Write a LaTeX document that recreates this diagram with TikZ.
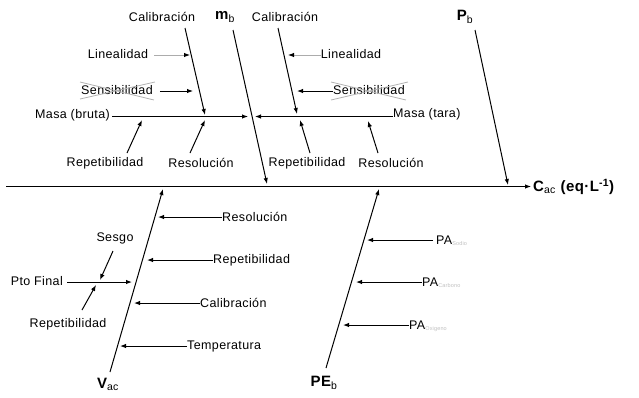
\documentclass[tikz,border=0pt]{standalone}
\usepackage{fontspec}
\setmainfont{Liberation Sans}[LetterSpace=3]
\usetikzlibrary{arrows.meta}
\begin{document}
\begin{tikzpicture}[x=1pt,y=-1pt,
  lbl/.style={inner sep=0pt,font=\fontsize{12.5}{14}\selectfont},
  big/.style={inner sep=0pt,font=\fontsize{15}{17}\selectfont\bfseries},
  arr/.style={-{Latex[length=6pt,width=4.5pt]},line width=1pt},
  garr/.style={line width=1pt,draw=gray!65,-{Latex[length=6pt,width=4.5pt,color=black,fill=black]}},
  bone/.style={-{Latex[length=6pt,width=4.5pt]},line width=1pt},
  cross/.style={draw=gray!60,line width=0.8pt}
]
\useasboundingbox (0,0) rectangle (639,397);

% ---------- main spine ----------
\coordinate (sp0) at (6,186.5);
\node[big,anchor=west] (cac) at (533,187)
  {C\textsubscript{\mdseries ac} (eq·L\textsuperscript{-1})};
\draw[bone] (sp0) -- ([xshift=-2pt]cac.west |- sp0);

% ---------- upper branches ----------
\node[big] (mb) at (225,17) {m\textsubscript{\mdseries b}};
\coordinate (mbs) at (233,30);
\coordinate (mbt) at (267,184);
\draw[bone] (mbs) -- (mbt);

\node[big] (pb) at (465,17) {P\textsubscript{\mdseries b}};
\coordinate (pbs) at (475,30);
\coordinate (pbt) at (508,185);
\draw[bone] (pbs) -- (pbt);

% gross mass
\node[lbl,anchor=east] (masaB) at (110,115) {Masa (bruta)};
\coordinate (masaBs) at (112,116.5);
\coordinate (masaBt) at (248,116.5);
\draw[arr] (masaBs) -- (masaBt);

\node[lbl] (calL) at (162,17) {Calibración};
\coordinate (calLs) at (185,28);
\coordinate (calLt) at (205,115);
\draw[arr] (calLs) -- (calLt);

\node[lbl] (linL) at (118,54) {Linealidad};
\coordinate (linLt) at (190,55);
\draw[garr,shorten <=6pt] (linL.east |- linLt) -- (linLt);

\node[lbl] (senL) at (117,90) {Sensibilidad};
\coordinate (senLt) at (193,91);
\draw[arr,shorten <=7pt] (senL.east |- senLt) -- (senLt);
\draw[cross] ([shift={(-1,-8)}]senL.west) -- ([shift={(1,10)}]senL.east)
             ([shift={(-1,9)}]senL.west) -- ([shift={(2,-8)}]senL.east);

\node[lbl] (repL) at (105,163) {Repetibilidad};
\coordinate (repLs) at (127,153);
\coordinate (repLt) at (142,120);
\draw[arr] (repLs) -- (repLt);

\node[lbl] (resL) at (201,163) {Resolución};
\coordinate (resLs) at (190,153);
\coordinate (resLt) at (205,120);
\draw[arr] (resLs) -- (resLt);

% tare mass
\node[lbl,anchor=west] (masaT) at (393,114) {Masa (tara)};
\coordinate (masaTs) at (393,116.5);
\coordinate (masaTt) at (255,116.5);
\draw[arr] (masaTs) -- (masaTt);

\node[lbl] (calR) at (285,17) {Calibración};
\coordinate (calRs) at (278,28);
\coordinate (calRt) at (297,114);
\draw[arr] (calRs) -- (calRt);

\node[lbl] (linR) at (351,54) {Linealidad};
\coordinate (linRt) at (288,55);
\draw[garr] (linR.west |- linRt) -- (linRt);

\node[lbl] (senR) at (369,90) {Sensibilidad};
\coordinate (senRt) at (297,91);
\draw[arr] (senR.west |- senRt) -- (senRt);
\draw[cross] ([shift={(-2,-8)}]senR.west) -- ([shift={(1,10)}]senR.east)
             ([shift={(-2,10)}]senR.west) -- ([shift={(3,-8)}]senR.east);

\node[lbl] (repR) at (307,163) {Repetibilidad};
\coordinate (repRs) at (310,153);
\coordinate (repRt) at (300,120);
\draw[arr] (repRs) -- (repRt);

\node[lbl] (resR) at (391,163) {Resolución};
\coordinate (resRs) at (378,153);
\coordinate (resRt) at (368,121);
\draw[arr] (resRs) -- (resRt);

% ---------- lower branches ----------
\node[big] (vac) at (108,384) {V\textsubscript{\mdseries ac}};
\coordinate (vacs) at (110,372);
\coordinate (vact) at (163,189);
\draw[bone] (vacs) -- (vact);

\node[lbl,anchor=west] (resB) at (222,217) {Resolución};
\coordinate (resBt) at (158,217);
\draw[arr] (resB.west) -- (resBt);

\node[lbl,anchor=west] (repB) at (213,260) {Repetibilidad};
\coordinate (repBt) at (147,260);
\draw[arr] (repB.west) -- (repBt);

\node[lbl,anchor=west] (calB) at (200,303) {Calibración};
\coordinate (calBt) at (134,303);
\draw[arr] (calB.west) -- (calBt);

\node[lbl,anchor=west] (temB) at (187,346) {Temperatura};
\coordinate (temBt) at (120,346);
\draw[arr] (temB.west) -- (temBt);

\node[lbl,anchor=east] (pto) at (63,281) {Pto Final};
\coordinate (ptot) at (132,282);
\draw[arr,shorten <=4pt] (pto.east |- ptot) -- (ptot);

\node[lbl] (sesgo) at (115,238) {Sesgo};
\coordinate (sesgos) at (113,251);
\coordinate (sesgot) at (100,280);
\draw[arr] (sesgos) -- (sesgot);

\node[lbl] (repBL) at (68,324) {Repetibilidad};
\coordinate (repBLs) at (82,310);
\coordinate (repBLt) at (96,285);
\draw[arr] (repBLs) -- (repBLt);

\node[big] (peb) at (324,383) {PE\textsubscript{\mdseries b}};
\coordinate (pebs) at (326,368);
\coordinate (pebt) at (379,189);
\draw[bone] (pebs) -- (pebt);

\node[lbl,anchor=base west] (paS) at (436,244) {PA\textsubscript{\textcolor{gray!50}{\fontsize{5.5}{6}\selectfont Sodio}}};
\coordinate (paSt) at (367,240);
\draw[arr] ([xshift=-3pt]paS.west |- paSt) -- (paSt);

\node[lbl,anchor=base west] (paC) at (422,286) {PA\textsubscript{\textcolor{gray!50}{\fontsize{5.5}{6}\selectfont Carbono}}};
\coordinate (paCt) at (356,282);
\draw[arr] (paC.west |- paCt) -- (paCt);

\node[lbl,anchor=base west] (paO) at (409,329) {PA\textsubscript{\textcolor{gray!50}{\fontsize{5.5}{6}\selectfont Oxigeno}}};
\coordinate (paOt) at (343,325);
\draw[arr] (paO.west |- paOt) -- (paOt);
\end{tikzpicture}
\end{document}
